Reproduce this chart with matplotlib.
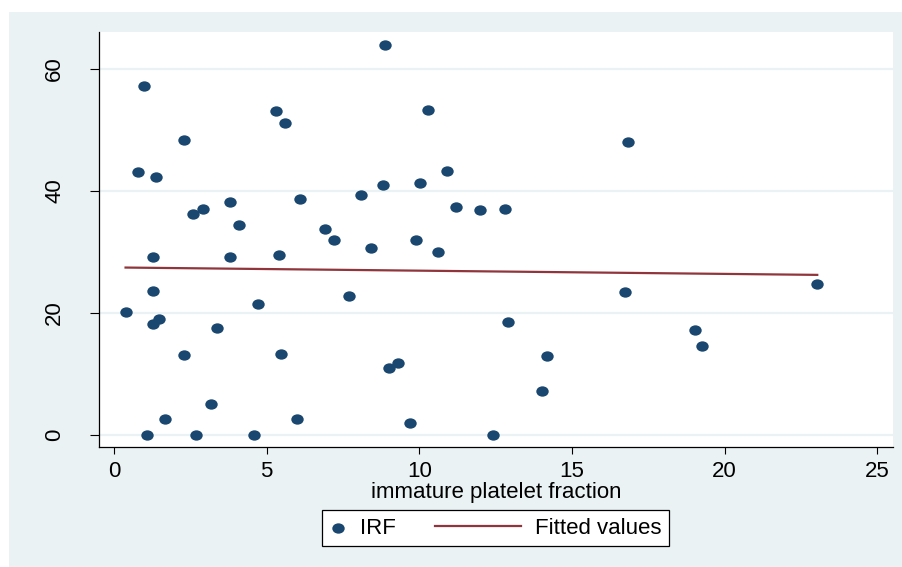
import matplotlib
matplotlib.use("Agg")
import matplotlib.pyplot as plt
from matplotlib.patches import Rectangle
from matplotlib.path import Path
from matplotlib.transforms import Affine2D
from matplotlib.lines import Line2D
from matplotlib.legend_handler import HandlerLine2D

plt.rcParams['font.family'] = ['Liberation Sans', 'DejaVu Sans']

# immature platelet fraction (x) vs IRF (y)
ipf = [0.38, 0.79, 0.99, 1.07, 1.28, 1.28, 1.28, 1.38, 1.48, 1.68,
       2.28, 2.29, 2.60, 2.69, 2.91, 3.19, 3.38, 3.80, 3.80, 4.08,
       4.58, 4.71, 5.30, 5.40, 5.48, 5.61, 5.99, 6.09, 6.90, 7.20,
       7.70, 8.09, 8.41, 8.80, 8.89, 9.00, 9.31, 9.71, 9.89, 10.01,
       10.29, 10.60, 10.91, 11.19, 12.00, 12.40, 12.82, 12.91, 14.02, 14.17,
       16.73, 16.83, 19.02, 19.24, 23.03]
irf = [20.1, 43.0, 57.2, 0.0, 29.1, 23.6, 18.1, 42.2, 18.9, 2.5,
       48.3, 13.0, 36.2, 0.0, 37.0, 5.0, 17.5, 38.1, 29.1, 34.3,
       0.0, 21.5, 53.1, 29.4, 13.3, 51.05, 2.6, 38.7, 33.8, 31.9,
       22.7, 39.3, 30.6, 40.9, 63.9, 10.9, 11.75, 1.9, 31.9, 41.3,
       53.3, 29.95, 43.2, 37.3, 36.8, 0.0, 37.0, 18.4, 7.1, 12.95,
       23.4, 48.0, 17.1, 14.5, 24.7]

# fitted line end points
fit_x = [0.38, 23.03]
fit_y = [27.4, 26.2]

xticks = [0, 5, 10, 15, 20, 25]
yticks = [0, 20, 40, 60]

navy = '#1a476f'
maroon = '#90353b'
bg = '#eaf2f3'

fig = plt.figure(figsize=(9.03, 5.67), dpi=100)
fig.patch.set_facecolor('white')
fig.patches.append(Rectangle((9 / 903, 0), 1 - 9 / 903, 555 / 567,
                             transform=fig.transFigure, facecolor=bg,
                             edgecolor='none', zorder=-10))

ax = fig.add_axes([99.3 / 903, 1 - 446.7 / 567, 794 / 903, 414.4 / 567])
ax.set_facecolor('white')

ell = Affine2D().scale(1.2, 1.0).transform_path(Path.unit_circle())
sc = ax.scatter(ipf, irf, s=80, marker=ell, color=navy, linewidths=0,
                zorder=3, label='IRF')
ln, = ax.plot(fit_x, fit_y, color=maroon, lw=1.6, zorder=2,
              label='Fitted values')

ax.set_xlim(-0.48, 25.52)
ax.set_ylim(-1.97, 65.97)
ax.set_xticks(xticks)
ax.set_yticks(yticks)
ax.grid(axis='y', color=bg, lw=1.6, zorder=0)
ax.set_axisbelow(True)

for s in ['top', 'right']:
    ax.spines[s].set_visible(False)
for s in ['left', 'bottom']:
    ax.spines[s].set_color('black')
    ax.spines[s].set_linewidth(0.9)

ax.tick_params(axis='x', length=5, width=0.8, pad=5, labelsize=16)
ax.tick_params(axis='y', length=6.5, width=0.8, pad=18, labelsize=16)
for t in ax.get_yticklabels():
    t.set_rotation(90)
    t.set_va('center')

ax.set_xlabel('immature platelet fraction', fontsize=16, labelpad=0)


class LongLine(HandlerLine2D):
    def create_artists(self, legend, orig_handle, xdescent, ydescent,
                       width, height, fontsize, trans):
        y = height / 2 - ydescent
        line = Line2D([-xdescent - 50, -xdescent + width], [y, y],
                      color=maroon, lw=1.6)
        line.set_transform(trans)
        return [line]


leg = fig.legend([sc, ln], ['IRF', 'Fitted values'], loc='center',
                 bbox_to_anchor=(495.5 / 903, 1 - 528 / 567), ncol=2,
                 fontsize=16, frameon=True, fancybox=False,
                 edgecolor='black', facecolor='white', framealpha=1,
                 handlelength=0.75, handletextpad=0.6, columnspacing=4.9,
                 borderpad=0.35, scatterpoints=1,
                 handler_map={ln: LongLine()})
leg.get_frame().set_linewidth(0.9)

fig.savefig('out.png', dpi=100)
